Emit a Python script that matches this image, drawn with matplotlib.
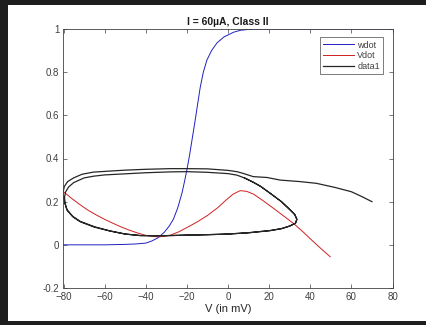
import matplotlib
matplotlib.use("Agg")
import matplotlib.pyplot as plt
from matplotlib.patches import Rectangle

plt.rcParams['font.family'] = ['Liberation Sans', 'DejaVu Sans']

# w nullcline (wdot = 0)
wdot_v = [-80, -60, -50, -45, -40, -37, -34, -31, -28.5, -26.5, -24.5, -22.4,
          -21, -20, -18.7, -17.5, -16, -14.8, -13.5, -12, -10.3, -8, -5.4, -2,
          2.7, 6, 10.8, 20, 40, 60, 80]
wdot_w = [0.0, 0.0, 0.002, 0.004, 0.008, 0.018, 0.033, 0.058, 0.088, 0.12,
          0.17, 0.239, 0.3, 0.347, 0.415, 0.486, 0.575, 0.65, 0.73, 0.8, 0.855,
          0.9, 0.935, 0.963, 0.985, 0.994, 0.999, 1.0, 1.0, 1.0, 1.0]

# V nullcline (Vdot = 0)
vdot_v = [-80, -76, -72, -68, -64, -60, -56, -52, -48, -44, -40, -37, -34, -31,
          -28, -24, -20, -15, -10, -5, -1, 2.5, 5.9, 9, 12.4, 17, 22, 27, 32,
          36.5, 41.6, 45.5, 49.7]
vdot_w = [0.246, 0.215, 0.186, 0.16, 0.138, 0.118, 0.1, 0.083, 0.068, 0.055,
          0.044, 0.039, 0.037, 0.039, 0.045, 0.06, 0.08, 0.106, 0.136, 0.172,
          0.207, 0.235, 0.251, 0.248, 0.235, 0.205, 0.17, 0.134, 0.098, 0.06,
          0.014, -0.02, -0.055]

# trajectory (data1): transient from (70, 0.2), then the limit cycle
traj_v = [70, 65, 60, 52, 43, 35, 25.4, 19, 12.3, 7, 4.3, 0, -10, -20, -28, -40,
          -50, -57, -65.4, -71, -75.1, -78, -79.6, -80.3, -80, -79.2, -78.3,
          -75.5, -71.9, -65, -57.3, -50, -42.7, -35, -28, -20, -10, 0, 10, 20.5,
          26, 30, 32.8, 33.5, 32.5, 30.3, 26, 20.5, 16, 12.3, 8, 4.3, 0, -10,
          -20, -28, -40, -50, -60, -65.4, -70, -75.1, -77.5, -79, -79.5, -79.2,
          -78.3, -75.5, -71.9, -65, -57.3, -50, -42.7, -35, -28, -20, -10, 0,
          10, 20.5, 26, 30, 32.8, 33.5, 32.5, 30.3, 26, 20.5, 16, 12.3, 8]
traj_w = [0.2, 0.224, 0.246, 0.266, 0.285, 0.293, 0.3, 0.312, 0.316, 0.332,
          0.339, 0.345, 0.352, 0.353, 0.353, 0.35, 0.346, 0.342, 0.337, 0.327,
          0.31, 0.293, 0.27, 0.24, 0.215, 0.19, 0.161, 0.13, 0.107, 0.082,
          0.064, 0.05, 0.043, 0.042, 0.043, 0.045, 0.047, 0.05, 0.056, 0.066,
          0.075, 0.087, 0.1, 0.118, 0.14, 0.161, 0.2, 0.239, 0.27, 0.29, 0.31,
          0.323, 0.33, 0.336, 0.339, 0.338, 0.334, 0.329, 0.324, 0.318, 0.31,
          0.288, 0.268, 0.245, 0.22, 0.19, 0.163, 0.132, 0.109, 0.084, 0.064,
          0.05, 0.043, 0.042, 0.043, 0.045, 0.047, 0.05, 0.056, 0.066, 0.075,
          0.087, 0.1, 0.118, 0.14, 0.161, 0.2, 0.239, 0.27, 0.29, 0.31]

xticks = [-80, -60, -40, -20, 0, 20, 40, 60, 80]
yticks = [-0.2, 0, 0.2, 0.4, 0.6, 0.8, 1]

fig = plt.figure(figsize=(4.26, 3.25), dpi=100, facecolor='#1e1e1e')
# white figure area inside the dark screenshot border
bg = Rectangle((8 / 426, 4 / 325), 1, 1 - 9 / 325, transform=fig.transFigure,
               facecolor='white', edgecolor='none', zorder=-10)
fig.add_artist(bg)

ax = fig.add_axes([63.5 / 426, 1 - 288 / 325, 329 / 426, 259 / 325])
ax.plot(wdot_v, wdot_w, color='#2020c0', lw=0.7, label='wdot')
ax.plot(vdot_v, vdot_w, color='#d02020', lw=0.7, label='Vdot')
ax.plot(traj_v, traj_w, color='#262626', lw=0.9, label='data1')

ax.set_xlim(-80, 80)
ax.set_ylim(-0.2, 1)
ax.set_xticks(xticks)
ax.set_yticks(yticks)
ax.set_yticklabels(['-0.2', '0', '0.2', '0.4', '0.6', '0.8', '1'])
ax.tick_params(direction='in', length=3, width=0.5, labelsize=7,
               colors='#404040', top=True, right=True, pad=3)
for s in ax.spines.values():
    s.set_color('#404040')
    s.set_linewidth(0.6)
ax.set_xlabel('V (in mV)', fontsize=8, color='#262626', labelpad=1)
ax.set_title('I = 60µA, Class II', fontsize=7.5, fontweight='bold',
             color='#1a1a1a', pad=3)
leg = ax.legend(loc='upper right', fontsize=6.5, frameon=True, fancybox=False,
                handlelength=3.4, borderpad=0.35, labelspacing=0.2,
                handletextpad=0.4, bbox_to_anchor=(0.985, 0.985))
leg.get_frame().set_edgecolor('#404040')
leg.get_frame().set_linewidth(0.6)
for t in leg.get_texts():
    t.set_color('#404040')

fig.savefig('out.png', dpi=100, facecolor=fig.get_facecolor())
